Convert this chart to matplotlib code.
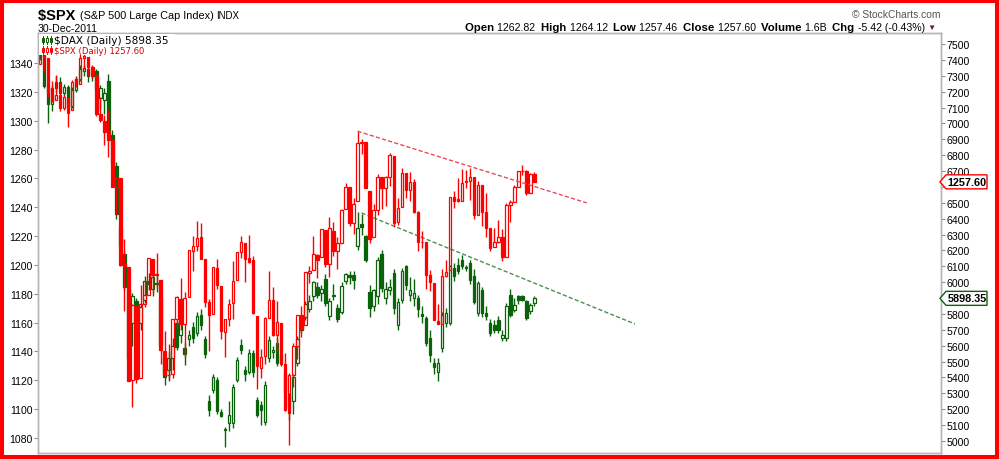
import matplotlib
matplotlib.use("Agg")
import numpy as np
import matplotlib.pyplot as plt
from matplotlib.patches import Rectangle, Polygon
from matplotlib.transforms import Affine2D, IdentityTransform

# daily candles 7-Jul-2011 .. 30-Dec-2011 (one entry per trading day)
spx_open = [1339.6, 1352.4, 1343.3, 1319.6, 1314.5, 1317.7, 1308.9, 1315.9, 1307.1, 1328.7,
            1325.7, 1343.8, 1344.3, 1337.4, 1331.9, 1304.8, 1300.1, 1292.6, 1286.6, 1254.3,
            1260.2, 1200.3, 1198.5, 1120.2, 1171.8, 1121.3, 1172.9, 1178.9, 1204.2, 1192.9,
            1189.6, 1140.5, 1123.6, 1124.4, 1162.2, 1176.7, 1158.9, 1177.9, 1209.8, 1213.0,
            1219.1, 1203.9, 1174.0, 1165.9, 1198.0, 1185.4, 1153.5, 1162.6, 1173.3, 1189.4,
            1209.2, 1215.0, 1204.5, 1203.6, 1164.6, 1128.8, 1136.9, 1163.3, 1175.4, 1151.7,
            1159.9, 1131.2, 1097.4, 1124.0, 1144.1, 1165.0, 1158.2, 1194.6, 1196.2, 1207.0,
            1205.7, 1224.5, 1200.8, 1223.5, 1209.9, 1215.4, 1238.7, 1254.2, 1229.2, 1244.0,
            1284.4, 1285.0, 1251.0, 1219.6, 1238.3, 1260.8, 1253.2, 1261.1, 1275.2, 1229.6,
            1240.1, 1263.9, 1251.7, 1257.8, 1236.6, 1216.2, 1215.6, 1193.0, 1187.5, 1161.4,
            1158.7, 1192.6, 1196.7, 1246.9, 1246.0, 1244.3, 1257.2, 1258.1, 1260.9, 1234.5,
            1255.1, 1236.8, 1225.7, 1212.1, 1216.1, 1219.7, 1205.7, 1241.3, 1243.7, 1254.0,
            1265.0, 1265.4, 1249.8, 1262.8]
spx_high = [1356.5, 1352.4, 1343.3, 1327.2, 1331.5, 1326.9, 1317.7, 1315.9, 1328.1, 1330.4,
            1347.0, 1346.1, 1344.3, 1338.5, 1331.9, 1316.3, 1304.2, 1307.4, 1286.6, 1261.2,
            1260.2, 1218.1, 1198.5, 1172.9, 1171.8, 1186.3, 1189.0, 1204.5, 1204.2, 1208.5,
            1189.6, 1154.5, 1145.5, 1162.4, 1178.6, 1190.7, 1181.2, 1210.3, 1220.1, 1230.7,
            1229.3, 1203.9, 1176.4, 1198.6, 1204.4, 1185.4, 1162.5, 1176.4, 1202.4, 1209.1,
            1220.1, 1215.0, 1220.4, 1206.3, 1164.6, 1141.7, 1164.2, 1195.9, 1184.7, 1175.1,
            1159.9, 1139.0, 1125.1, 1146.1, 1165.6, 1171.4, 1194.9, 1199.2, 1220.3, 1207.5,
            1224.6, 1224.5, 1233.1, 1229.6, 1219.4, 1239.0, 1256.6, 1254.2, 1246.3, 1292.7,
            1287.1, 1285.0, 1251.0, 1242.5, 1263.2, 1260.8, 1261.7, 1277.6, 1275.2, 1246.2,
            1267.0, 1263.9, 1264.3, 1259.6, 1237.7, 1223.5, 1215.6, 1196.8, 1187.5, 1172.7,
            1197.4, 1203.7, 1247.1, 1251.1, 1260.1, 1266.7, 1266.0, 1267.1, 1260.9, 1258.3,
            1255.1, 1249.9, 1225.7, 1225.6, 1231.0, 1224.6, 1242.8, 1245.1, 1255.2, 1265.4,
            1269.4, 1265.9, 1263.5, 1264.1]
spx_low = [1339.6, 1333.7, 1316.4, 1313.3, 1314.5, 1306.5, 1307.4, 1295.9, 1307.1, 1323.7,
           1325.7, 1336.0, 1331.1, 1329.6, 1303.5, 1299.2, 1282.9, 1274.7, 1254.0, 1234.6,
           1199.5, 1168.1, 1119.3, 1101.5, 1118.0, 1121.3, 1170.7, 1178.9, 1180.5, 1184.4,
           1131.0, 1122.1, 1121.1, 1121.6, 1156.3, 1155.0, 1135.9, 1177.9, 1195.8, 1209.4,
           1203.9, 1170.6, 1140.1, 1165.9, 1183.3, 1148.4, 1136.1, 1157.4, 1162.7, 1189.4,
           1204.5, 1188.4, 1201.3, 1166.2, 1114.2, 1121.4, 1131.1, 1163.3, 1150.4, 1139.9,
           1131.3, 1098.9, 1074.8, 1115.7, 1135.0, 1150.3, 1158.2, 1187.3, 1196.2, 1190.6,
           1205.7, 1198.6, 1191.5, 1206.3, 1197.3, 1215.4, 1238.7, 1226.8, 1221.1, 1244.0,
           1277.0, 1253.2, 1215.4, 1219.6, 1234.8, 1238.9, 1240.8, 1255.0, 1226.6, 1227.7,
           1240.1, 1246.7, 1244.3, 1235.7, 1209.4, 1211.4, 1183.2, 1181.7, 1161.8, 1158.7,
           1158.7, 1191.8, 1196.7, 1239.7, 1243.4, 1244.3, 1253.0, 1244.8, 1231.5, 1234.5,
           1227.3, 1219.4, 1209.5, 1212.1, 1215.2, 1202.4, 1205.7, 1229.5, 1243.7, 1254.0,
           1262.3, 1248.6, 1249.8, 1257.5]
spx_close = [1353.2, 1343.8, 1319.5, 1313.6, 1317.7, 1308.9, 1316.1, 1305.4, 1326.7, 1325.8,
             1343.8, 1345.0, 1337.4, 1331.9, 1304.9, 1300.7, 1292.3, 1286.9, 1254.1, 1260.3,
             1200.1, 1199.4, 1119.5, 1172.5, 1120.8, 1172.6, 1178.8, 1204.5, 1192.8, 1193.9,
             1140.7, 1123.5, 1123.8, 1162.4, 1177.6, 1159.3, 1177.0, 1210.1, 1212.9, 1218.9,
             1204.4, 1174.0, 1165.2, 1198.6, 1185.9, 1154.2, 1162.3, 1172.9, 1188.7, 1209.1,
             1216.0, 1204.1, 1202.1, 1166.8, 1129.6, 1136.4, 1163.0, 1175.4, 1151.1, 1160.4,
             1131.4, 1099.2, 1124.0, 1144.0, 1165.0, 1155.5, 1194.9, 1195.5, 1207.3, 1203.7,
             1224.6, 1200.9, 1225.4, 1209.9, 1215.4, 1238.3, 1254.2, 1229.1, 1242.0, 1284.6,
             1285.1, 1253.3, 1218.3, 1237.9, 1261.2, 1253.2, 1261.1, 1275.9, 1229.1, 1239.7,
             1263.9, 1251.8, 1257.8, 1236.9, 1216.1, 1215.7, 1193.0, 1188.0, 1161.8, 1158.7,
             1192.6, 1195.2, 1247.0, 1244.6, 1244.3, 1257.1, 1258.5, 1261.0, 1234.4, 1255.2,
             1236.5, 1225.7, 1211.8, 1215.8, 1219.7, 1205.4, 1241.3, 1243.7, 1254.0, 1265.3,
             1265.4, 1249.6, 1263.0, 1257.6]

dax_open = [7470, 7422, 7235, 7120, 7225, 7260, 7190, 7230, 7110, 7210,
            7280, 7330, 7340, 7300, 7330, 7160, 7150, 7270, 6930, 6730,
            6340, 6180, 5960, 5740, 5880, 5745, 5890, 6010, 5960, 5995,
            5900, 5530, 5450, 5520, 5740, 5670, 5585, 5640, 5720, 5680,
            5795, 5640, 5250, 5320, 5385, 5180, 5075, 5112, 5112, 5385,
            5605, 5448, 5437, 5553, 5259, 5228, 5122, 5521, 5560, 5616,
            5540, 5427, 5290, 5250, 5490, 5760, 5780, 5830, 5910, 5970,
            5930, 6020, 5790, 5920, 5840, 5810, 6010, 6045, 6045, 6225,
            6367, 6290, 5940, 5850, 5910, 6180, 5900, 5950, 6057, 5731,
            5889, 6099, 5920, 5900, 5900, 5800, 5775, 5647, 5490, 5437,
            5585, 5742, 5742, 6089, 6110, 6141, 6095, 6120, 6036, 5805,
            5952, 5805, 5742, 5731, 5763, 5648, 5647, 5921, 5826, 5910,
            5910, 5879, 5816, 5866]
dax_high = [7490, 7430, 7250, 7240, 7300, 7290, 7250, 7240, 7230, 7300,
            7370, 7370, 7380, 7360, 7340, 7240, 7220, 7310, 6960, 6760,
            6390, 6200, 6000, 5930, 5900, 5870, 6040, 6060, 6060, 6060,
            5920, 5560, 5560, 5650, 5760, 5760, 5620, 5700, 5750, 5810,
            5830, 5660, 5290, 5420, 5400, 5200, 5090, 5250, 5360, 5530,
            5640, 5470, 5580, 5570, 5280, 5250, 5380, 5660, 5600, 5650,
            5560, 5440, 5300, 5420, 5660, 5780, 5880, 5920, 6010, 6000,
            5980, 6050, 5900, 5990, 5860, 6000, 6060, 6070, 6070, 6440,
            6430, 6300, 5980, 5960, 6160, 6200, 6000, 6020, 6080, 5900,
            6090, 6110, 6030, 6020, 5920, 5850, 5790, 5700, 5520, 5520,
            5810, 5840, 6110, 6120, 6150, 6170, 6110, 6140, 6080, 6010,
            5970, 5850, 5770, 5760, 5790, 5700, 5870, 5960, 5900, 5920,
            5920, 5890, 5870, 5910]
dax_low = [7400, 7220, 7005, 7080, 7200, 7160, 7170, 7080, 7100, 7200,
           7270, 7300, 7260, 7270, 7190, 7090, 7060, 6930, 6720, 6400,
           6220, 5950, 5470, 5600, 5550, 5700, 5870, 5950, 5910, 5940,
           5580, 5350, 5380, 5450, 5570, 5620, 5480, 5600, 5620, 5660,
           5700, 5520, 5160, 5300, 5170, 5150, 4965, 5060, 5080, 5370,
           5550, 5380, 5420, 5400, 5150, 5100, 5100, 5500, 5520, 5470,
           5470, 5290, 5130, 5170, 5470, 5680, 5760, 5810, 5880, 5900,
           5880, 5850, 5760, 5890, 5750, 5800, 5990, 5990, 5960, 6200,
           6300, 6130, 5780, 5820, 5860, 5940, 5860, 5920, 5800, 5700,
           5870, 5950, 5880, 5850, 5780, 5740, 5600, 5500, 5420, 5375,
           5560, 5720, 5730, 6010, 6050, 6080, 6070, 5990, 5860, 5790,
           5780, 5760, 5660, 5680, 5680, 5630, 5630, 5780, 5810, 5860,
           5880, 5760, 5800, 5850]
dax_close = [7420, 7235, 7120, 7225, 7260, 7190, 7230, 7110, 7210, 7280,
             7340, 7350, 7300, 7330, 7210, 7220, 7190, 6960, 6750, 6430,
             6236, 5970, 5520, 5910, 5580, 5845, 6010, 5990, 6030, 5990,
             5602, 5400, 5520, 5600, 5590, 5740, 5545, 5670, 5650, 5790,
             5730, 5545, 5195, 5405, 5186, 5160, 5070, 5165, 5343, 5511,
             5574, 5423, 5553, 5437, 5165, 5196, 5353, 5637, 5575, 5490,
             5500, 5311, 5207, 5400, 5645, 5700, 5860, 5880, 6000, 5920,
             5960, 5870, 5880, 5915, 5770, 5975, 6050, 6030, 6015, 6340,
             6350, 6141, 5836, 5950, 6140, 5962, 5960, 5970, 5836, 5878,
             6068, 5983, 5950, 5930, 5830, 5790, 5616, 5542, 5469, 5490,
             5795, 5805, 6099, 6036, 6068, 6099, 6089, 6015, 5878, 5994,
             5805, 5784, 5679, 5700, 5700, 5669, 5847, 5795, 5857, 5889,
             5889, 5774, 5858, 5898.35]

# hand drawn trend lines (bar index, price)
spx_trend_x = [79, 136]
spx_trend_y = [1292.7, 1243.0]
dax_trend_x = [80, 148]
dax_trend_y = [6436, 5737]

spx_ticks = list(range(1080, 1341, 20))
dax_ticks = list(range(5000, 7501, 100))

RED = "#ff0000"
GREEN = "#0a620a"
W, H = 999, 460


def candles(axis, o, h, l, c, color, z):
    o, h, l, c = map(np.asarray, (o, h, l, c))
    x = np.arange(len(o))
    top = np.maximum(o, c)
    bot = np.minimum(o, c)
    axis.vlines(x, top, h, color=color, lw=1, zorder=z)
    axis.vlines(x, l, bot, color=color, lw=1, zorder=z)
    up = c >= o
    axis.bar(x[up], (top - bot)[up], bottom=bot[up], width=0.62,
             facecolor="none", edgecolor=color, linewidth=0.9, zorder=z)
    axis.bar(x[~up], (top - bot)[~up], bottom=bot[~up], width=0.62,
             facecolor=color, edgecolor=color, linewidth=0.9, zorder=z)


fig = plt.figure(figsize=(W / 100, H / 100), dpi=100)
fig.patch.set_facecolor("white")
ax = fig.add_axes([38 / W, 1 - 454 / H, (941 - 38) / W, (454 - 34) / H])
ax2 = ax.twinx()
ax.set_zorder(ax2.get_zorder() + 1)
ax.patch.set_visible(False)

# DAX (right scale) behind, SPX (left scale) on top
candles(ax2, dax_open, dax_high, dax_low, dax_close, GREEN, 2)
candles(ax, spx_open, spx_high, spx_low, spx_close, RED, 2)
ax2.plot(dax_trend_x, dax_trend_y, color="#4a9150", lw=1, dashes=(3, 1.6), zorder=3)
ax.plot(spx_trend_x, spx_trend_y, color="#eb4a5a", lw=1, dashes=(3, 1.6), zorder=3)

ax.set_xlim(-0.5, (941 - 40) / 4.02)
ax.set_ylim(1069.6, 1360.8)
ax2.set_ylim(4924.4, 7569.3)
ax.set_xticks([])
ax.set_yticks(spx_ticks)
ax2.set_yticks(dax_ticks)
for a in (ax, ax2):
    for s in a.spines.values():
        s.set_color("#b4b4b4")
        s.set_linewidth(1)
    a.tick_params(axis="y", direction="out", length=3, width=0.8, color="#909090",
                  labelsize=7.6, pad=1)
    for t in a.get_yticklabels():
        t.set_family("Liberation Sans")

# pixel coordinate helper (y measured from the top)
pix = Affine2D().scale(1 / W, -1 / H).translate(0, 1) + fig.transFigure


def txt(x, y, s, size, bold=False, color="black", ha="left"):
    return fig.text(x / W, 1 - y / H, s, fontsize=size, color=color, ha=ha, va="center",
                    fontweight="bold" if bold else "normal",
                    family=["Liberation Sans", "DejaVu Sans"])


fig.canvas.draw()
rend = fig.canvas.get_renderer()

# the value tags hide the scale labels they sit on
for t in ax2.get_yticklabels():
    if t.get_text() in ("6600", "5900"):
        t.set_visible(False)


def row(x, y, parts):
    for s, size, bold, color in parts:
        t = txt(x, y, s, size, bold, color)
        x += t.get_window_extent(renderer=rend).width
    return x


row(38, 16, [("$SPX ", 10.5, True, "black"),
             ("(S&P 500 Large Cap Index) ", 7.8, False, "black"),
             ("INDX", 7, False, "black")])
txt(38, 29, "30-Dec-2011", 7.6)
txt(940, 15, "\u00a9 StockCharts.com", 7.4, color="#555555", ha="right")
row(465, 28, [("Open ", 8.2, True, "black"), ("1262.82  ", 7.6, False, "black"),
              ("High ", 8.2, True, "black"), ("1264.12  ", 7.6, False, "black"),
              ("Low ", 8.2, True, "black"), ("1257.46  ", 7.6, False, "black"),
              ("Close ", 8.2, True, "black"), ("1257.60  ", 7.6, False, "black"),
              ("Volume ", 8.2, True, "black"), ("1.6B  ", 7.6, False, "black"),
              ("Chg ", 8.2, True, "black"), ("-5.42 (-0.43%) ", 7.6, False, "black"),
              ("\u25bc", 6, False, "#7a1838")])

# legend inside the plot, on a white ground that hides the bars under it
fig.add_artist(Rectangle((39, 35), 136, 21, transform=pix, fc="white", ec="none", zorder=4))
fig.text(54 / W, 1 - 41 / H, "$DAX (Daily) 5898.35", fontsize=7.6, color="black",
         va="center", family="DejaVu Sans", zorder=5)
fig.text(54 / W, 1 - 51 / H, "$SPX (Daily) 1257.60", fontsize=6.1, color="#d00000",
         va="center", family="DejaVu Sans", zorder=5)
for yc, col in ((41, GREEN), (51, RED)):
    for dx, filled in ((41.5, True), (45.5, False), (49.5, True)):
        fig.add_artist(plt.Line2D([dx + 1, dx + 1], [yc - 4.5, yc + 4], color=col, lw=0.7,
                                  transform=pix, zorder=5))
        fig.add_artist(Rectangle((dx, yc - 2.5), 2, 4.5, transform=pix, lw=0.7, ec=col,
                                 fc=col if filled else "white", zorder=6))

# last value tags on the right scale
for axis, val, label, col in ((ax, spx_close[-1], "1257.60", RED),
                              (ax2, dax_close[-1], "5898.35", GREEN)):
    yd = axis.transData.transform((0, val))[1]
    xd = ax.transAxes.transform((1, 0))[0]
    pts = [(xd - 1, yd), (xd + 5, yd + 7), (xd + 46, yd + 7), (xd + 46, yd - 7),
           (xd + 5, yd - 7)]
    fig.add_artist(Polygon(pts, closed=True, transform=IdentityTransform(), fc="white",
                           ec=col, lw=1, zorder=6))
    fig.text((xd + 26) / W, yd / H, label, fontsize=7.8, fontweight="bold",
             ha="center", va="center", family="Liberation Sans", zorder=7)

# red frame round the whole picture
fig.add_artist(Rectangle((0, 0), 1, 1, transform=fig.transFigure, fill=False,
                         ec=RED, lw=5.8, zorder=100))

fig.savefig("out.png", dpi=100)
